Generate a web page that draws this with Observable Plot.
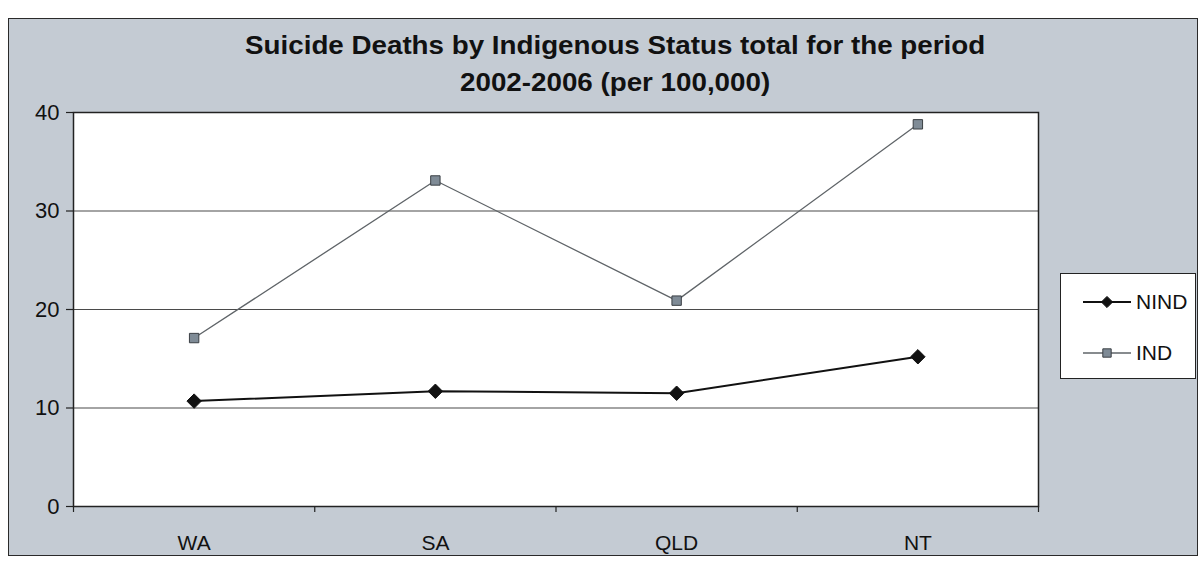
<!DOCTYPE html>
<html>
<head>
<meta charset="utf-8">
<script src="https://cdn.jsdelivr.net/npm/d3@7"></script>
<script src="https://cdn.jsdelivr.net/npm/@observablehq/plot@0.6"></script>
<style>
  html, body { margin: 0; padding: 0; background: #ffffff; }
  #wrap { position: relative; width: 1200px; height: 563px; overflow: hidden; font-family: "Liberation Sans", Arial, sans-serif; }
  #panel { position: absolute; left: 8px; top: 18px; width: 1188px; height: 536px; background: #c4cbd3; border: 1.5px solid #2a2a2a; }
  #title { position: absolute; left: 0; width: 1230px; top: 27px; text-align: center; font-weight: bold; font-size: 25px; line-height: 37px; color: #111; transform: scaleX(1.11); transform-origin: 614px 0; }
  #chart { position: absolute; left: 0; top: 0; }
  #legend { position: absolute; left: 1060px; top: 273px; width: 134px; height: 104px; background: #fff; border: 1.5px solid #222; }
</style>
</head>
<body>
<div id="wrap">
  <div id="panel"></div>
  <div id="title">Suicide Deaths by Indigenous Status total for the period<br>2002-2006 (per 100,000)</div>
  <div id="chart"></div>
  <div id="legend"></div>
</div>
<script>
const categories = ["WA", "SA", "QLD", "NT"];
const nind = [10.7, 11.7, 11.5, 15.2];
const ind = [17.1, 33.1, 20.9, 38.8];
const yTicks = [0, 10, 20, 30, 40];
const gridValues = [10, 20, 30];
const seriesNames = ["NIND", "IND"];

const rows = [];
categories.forEach((c, i) => {
  rows.push({series: "NIND", pos: i + 0.5, cat: c, value: nind[i]});
  rows.push({series: "IND", pos: i + 0.5, cat: c, value: ind[i]});
});
const nindRows = rows.filter(d => d.series === "NIND");
const indRows = rows.filter(d => d.series === "IND");
const centers = categories.map((c, i) => i + 0.5);
const boundaries = d3.range(0, categories.length + 1);

const fontStyle = {fontFamily: "'Liberation Sans', Arial, sans-serif", fontSize: "21px", color: "#111"};

const plot = Plot.plot({
  width: 1200,
  height: 563,
  marginLeft: 73,
  marginRight: 162,
  marginTop: 112,
  marginBottom: 57,
  style: {background: "transparent", ...fontStyle, overflow: "visible"},
  x: {domain: [0, categories.length], axis: null},
  y: {domain: [0, 40], axis: null},
  marks: [
    Plot.frame({fill: "#ffffff", stroke: "none"}),
    Plot.ruleY(gridValues, {stroke: "#4a4a4a", strokeWidth: 1.2}),
    Plot.axisY({ticks: yTicks, label: null, tickSize: 7, tickPadding: 7, stroke: "#222", strokeWidth: 1.2, fontSize: 22, fill: "#111"}),
    Plot.axisX({ticks: centers, label: null, tickFormat: (d) => categories[Math.round(d - 0.5)], tickSize: 0, tickPadding: 29, fontSize: 21, fill: "#111"}),
    Plot.axisX({ticks: boundaries, label: null, tickFormat: () => "", tickSize: 6, stroke: "#222", strokeWidth: 1.2}),
    Plot.frame({stroke: "#222", strokeWidth: 1.5}),
    Plot.line(indRows, {x: "pos", y: "value", stroke: "#5f6468", strokeWidth: 1.3}),
    Plot.line(nindRows, {x: "pos", y: "value", stroke: "#111", strokeWidth: 2}),
    Plot.dot(indRows, {x: "pos", y: "value", symbol: "square", r: 5.3, fill: "#7f8b96", stroke: "#3a3f44", strokeWidth: 1}),
    Plot.dot(nindRows, {x: "pos", y: "value", symbol: "diamond2", r: 6.5, fill: "#111", stroke: "#111", strokeWidth: 1})
  ]
});
document.getElementById("chart").appendChild(plot);

// legend
const lg = d3.select("#legend").append("svg").attr("width", 134).attr("height", 104)
  .style("font-family", "'Liberation Sans', Arial, sans-serif");
const legendItems = [
  {name: seriesNames[0], stroke: "#111", sw: 2, symbol: d3.symbolDiamond2, size: 80, fill: "#111", mstroke: "#111"},
  {name: seriesNames[1], stroke: "#5f6468", sw: 1.3, symbol: d3.symbolSquare, size: 70, fill: "#7f8b96", mstroke: "#3a3f44"}
];
legendItems.forEach((it, i) => {
  const y = 28 + i * 51;
  const g = lg.append("g");
  g.append("line").attr("x1", 22).attr("x2", 70).attr("y1", y).attr("y2", y).attr("stroke", it.stroke).attr("stroke-width", it.sw);
  g.append("path").attr("d", d3.symbol(it.symbol, it.size)()).attr("transform", `translate(46,${y})`).attr("fill", it.fill).attr("stroke", it.mstroke);
  g.append("text").attr("x", 75).attr("y", y).attr("dy", "0.35em").attr("font-size", 21).attr("fill", "#111").text(it.name);
});
</script>
</body>
</html>
